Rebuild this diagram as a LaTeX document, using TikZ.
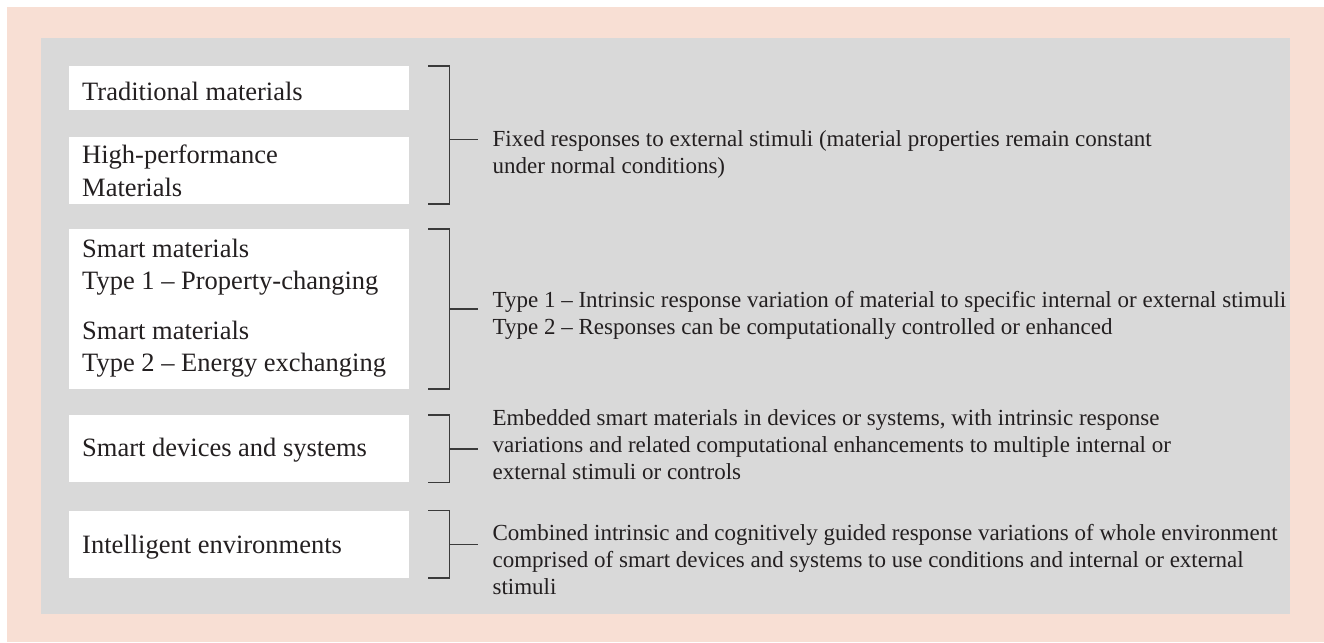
\documentclass[tikz,border=0pt]{standalone}
\usepackage{fontspec}
\setmainfont{Liberation Serif}
\usepackage{tikz}
\usetikzlibrary{positioning,calc}
\definecolor{peach}{HTML}{F8DFD4}
\definecolor{panel}{HTML}{D9D9D9}
\definecolor{ink}{HTML}{231F20}
\definecolor{rule}{HTML}{3A3A3A}
\tikzset{
  matbox/.style={fill=white, anchor=north west, text width=314pt, minimum width=340pt,
    inner xsep=13pt, inner ysep=0pt, align=flush left, text=ink,
    font=\fontsize{26.5}{32.5}\selectfont},
  desc/.style={anchor=base west, inner sep=0pt, text width=820pt, align=flush left, text=ink,
    font=\fontsize{23}{27}\selectfont},
  brace/.style={draw=rule, line width=1.5pt},
}

\begin{document}
\begin{tikzpicture}[x=1pt,y=-1pt]
\useasboundingbox (0,0) rectangle (1324,642);
\fill[peach] (7,7) rectangle (1324,642);
\fill[panel] (41,38) rectangle (1290,614);

\node[matbox, text height=34pt, text depth=10pt] (trad) at (69,66) {Traditional materials};
\node[matbox, text height=27pt, text depth=40pt, below=26pt of trad] (high) {High-performance\\Materials};
\node[matbox, text height=28pt, text depth=132pt, below=25pt of high] (smart)
  {Smart materials\\Type 1 -- Property-changing\\[17pt]Smart materials\\Type 2 -- Energy exchanging};
\node[matbox, text height=41pt, text depth=26pt, below=26pt of smart] (dev) {Smart devices and systems};
\node[matbox, text height=43pt, text depth=24pt, below=28pt of dev] (env) {Intelligent environments};

% brackets
\draw[brace] ([xshift=19pt]trad.north east) -| ([xshift=40pt]high.south east) -- ([xshift=19pt]high.south east);
\draw[brace] ([xshift=19pt]smart.north east) -| ([xshift=40pt]smart.south east) -- ([xshift=19pt]smart.south east);
\draw[brace] ([xshift=19pt]dev.north east) -| ([xshift=40pt]dev.south east) -- ([xshift=19pt]dev.south east);
\draw[brace] ([xshift=19pt]env.north east) -| ([xshift=40pt]env.south east) -- ([xshift=19pt]env.south east);

\coordinate (m1) at ($([xshift=40pt,yshift=-4.5pt]trad.north east)!.5!([xshift=40pt,yshift=-4.5pt]high.south east)$);
\coordinate (m2) at ([xshift=40pt]smart.east);
\coordinate (m3) at ([xshift=40pt]dev.east);
\coordinate (m4) at ([xshift=40pt]env.east);
\draw[brace] (m1) -- ++(29,0) coordinate (e1);
\draw[brace] (m2) -- ++(29,0) coordinate (e2);
\draw[brace] (m3) -- ++(29,0) coordinate (e3);
\draw[brace] (m4) -- ++(29,0) coordinate (e4);

\node[desc] (fixed) at ([xshift=14pt,yshift=-7pt]e1)
  {Fixed responses to external stimuli (material properties remain constant\\under normal conditions)};
\node[desc] (types) at ([xshift=14pt,yshift=2pt]e2)
  {Type 1 -- Intrinsic response variation of material to specific internal or external stimuli\\Type 2 -- Responses can be computationally controlled or enhanced};
\node[desc] (embed) at ([xshift=14pt,yshift=23pt]e3)
  {Embedded smart materials in devices or systems, with intrinsic response\\variations and related computational enhancements to multiple internal or\\external stimuli or controls};
\node[desc] (comb) at ([xshift=14pt,yshift=4pt]e4)
  {Combined intrinsic and cognitively guided response variations of whole environment\\comprised of smart devices and systems to use conditions and internal or external\\stimuli};
\end{tikzpicture}
\end{document}
